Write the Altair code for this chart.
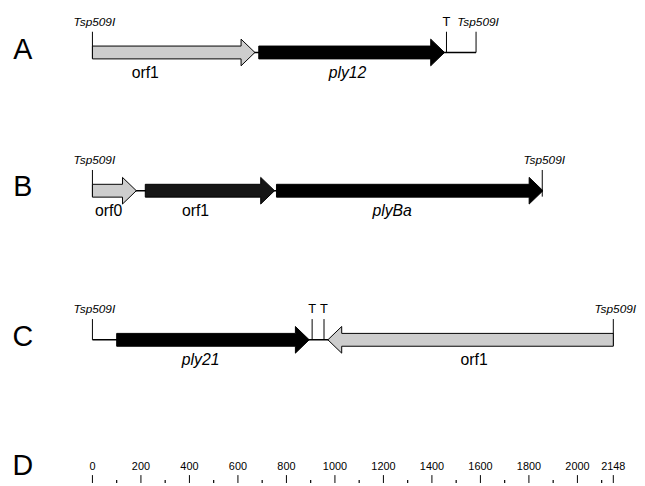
import altair as alt
import pandas as pd

# ---------------- data (bp coordinates) ----------------
row_names = ["A", "B", "C"]
row_extent = [1582, 1855, 2148]

gene_row = ["A", "A", "B", "B", "B", "C", "C"]
gene_name = ["orf1", "ply12", "orf0", "orf1", "plyBa", "ply21", "orf1"]
gene_start = [0, 686, 0, 218, 759, 100, 971]
gene_end = [670, 1452, 181, 751, 1858, 894, 2148]
gene_strand = [1, 1, 1, 1, 1, 1, -1]
gene_kind = ["orf", "lysin", "orf", "orf_dark", "lysin", "lysin", "orf"]
gene_label_at = [218, 1052, 67, 425, 1236, 446, 1574]
gene_italic = [False, True, False, False, True, True, False]

site_row = ["A", "A", "A", "B", "B", "C", "C", "C", "C"]
site_name = ["Tsp509I", "T", "Tsp509I", "Tsp509I", "Tsp509I", "Tsp509I", "T", "T", "Tsp509I"]
site_pos = [0, 1460, 1582, 0, 1855, 0, 906, 955, 2148]

ruler_labels = [0, 200, 400, 600, 800, 1000, 1200, 1400, 1600, 1800, 2000, 2148]
ruler_minor = [100, 300, 500, 700, 900, 1100, 1300, 1500, 1700, 1900, 2100]

# ---------------- layout ----------------
PX_PER_BP = 0.24558
ORIGIN_X = 93.5          # page x of bp 0
W, H = 637, 478
ROW_Y = {"A": 50, "B": 190, "C": 341}
LETTER_BASE = {"A": 57, "B": 195, "C": 347, "D": 478}
BODY = 6.5
HEAD = 13.5
HEAD_LEN = 14 / PX_PER_BP
RULER_Y = 478

xdom = [-(ORIGIN_X - 8) / PX_PER_BP, (8 + W - ORIGIN_X) / PX_PER_BP]
xs = alt.Scale(domain=xdom, range=[0, W], nice=False, zero=False)
ys = alt.Scale(domain=[8, 8 + H], reverse=True, nice=False, zero=False)

FONT = "Liberation Sans"

# arrow outline points (in path order; ties in x keep this order)
pts = []
for i in range(len(gene_name)):
    c = ROW_Y[gene_row[i]]
    s, e = gene_start[i], gene_end[i]
    if gene_strand[i] > 0:
        hs = e - HEAD_LEN
        seq = [(s, c - BODY, c + BODY), (hs, c - BODY, c + BODY),
               (hs, c - HEAD, c + HEAD), (e, c, c)]
    else:
        hs = s + HEAD_LEN
        seq = [(s, c, c), (hs, c - HEAD, c + HEAD),
               (hs, c - BODY, c + BODY), (e, c - BODY, c + BODY)]
    for k, (x, t, b) in enumerate(seq):
        pts.append(dict(gid=i, k=k, x=x, top=t, bot=b, kind=gene_kind[i]))
arrow_df = pd.DataFrame(pts)

arrows = alt.Chart(arrow_df).mark_area(
    orient="vertical", stroke="black", strokeWidth=1, interpolate="linear"
).encode(
    x=alt.X("x:Q", scale=xs, axis=None),
    y=alt.Y("top:Q", scale=ys, axis=None),
    y2="bot:Q",
    detail="gid:N",
    fill=alt.Fill("kind:N", scale=alt.Scale(domain=["orf", "lysin", "orf_dark"],
                                             range=["#cdcdcd", "#000000", "#161616"]),
                  legend=None),
)

base_df = pd.DataFrame({"row": row_names, "x0": [0] * 3, "x1": row_extent,
                        "y": [ROW_Y[r] for r in row_names]})
baselines = alt.Chart(base_df).mark_rule(color="black", strokeWidth=1.5).encode(
    x=alt.X("x0:Q", scale=xs, axis=None), x2="x1:Q",
    y=alt.Y("y:Q", scale=ys, axis=None),
)

site_rows = []
for r, n, p in zip(site_row, site_name, site_pos):
    c = ROW_Y[r]
    inside = any(gr == r and gs <= p <= ge for gr, gs, ge in zip(gene_row, gene_start, gene_end))
    site_rows.append(dict(name=n, x=p, top=c - 21, bot=c + (6 if inside else 0), ly=c - 31))
site_df = pd.DataFrame(site_rows)

site_lines = alt.Chart(site_df).mark_rule(color="black", strokeWidth=1).encode(
    x=alt.X("x:Q", scale=xs, axis=None),
    y=alt.Y("top:Q", scale=ys, axis=None), y2="bot:Q",
)
tsp_text = alt.Chart(site_df[site_df.name == "Tsp509I"]).mark_text(
    font=FONT, fontSize=12, fontStyle="italic", baseline="middle", align="center", dx=2
).encode(
    x=alt.X("x:Q", scale=xs, axis=None), y=alt.Y("ly:Q", scale=ys, axis=None), text="name:N"
)
t_text = alt.Chart(site_df[site_df.name == "T"]).mark_text(
    font=FONT, fontSize=13, baseline="middle", align="center"
).encode(
    x=alt.X("x:Q", scale=xs, axis=None), y=alt.Y("ly:Q", scale=ys, axis=None), text="name:N"
)

lab_df = pd.DataFrame({"name": gene_name, "x": gene_label_at, "italic": gene_italic,
                       "y": [ROW_Y[r] + 21 for r in gene_row]})
lab_plain = alt.Chart(lab_df[~lab_df.italic]).mark_text(
    font=FONT, fontSize=16, baseline="middle", align="center"
).encode(x=alt.X("x:Q", scale=xs, axis=None), y=alt.Y("y:Q", scale=ys, axis=None), text="name:N")
lab_ital = alt.Chart(lab_df[lab_df.italic]).mark_text(
    font=FONT, fontSize=16, fontStyle="italic", baseline="middle", align="center"
).encode(x=alt.X("x:Q", scale=xs, axis=None), y=alt.Y("y:Q", scale=ys, axis=None), text="name:N")

letter_df = pd.DataFrame({"t": list(LETTER_BASE.keys()), "y": list(LETTER_BASE.values()),
                          "x": [(23 - ORIGIN_X) / PX_PER_BP] * 4})
letters = alt.Chart(letter_df).mark_text(
    font=FONT, fontSize=29, baseline="alphabetic", align="center"
).encode(x=alt.X("x:Q", scale=xs, axis=None), y=alt.Y("y:Q", scale=ys, axis=None), text="t:N")

major_df = pd.DataFrame({"x": ruler_labels, "lab": [str(v) for v in ruler_labels]})
minor_df = pd.DataFrame({"x": ruler_minor})
major_ticks = alt.Chart(major_df).mark_rule(color="black", strokeWidth=1).encode(
    x=alt.X("x:Q", scale=xs, axis=None),
    y=alt.datum(RULER_Y, scale=ys), y2=alt.datum(8 + H),
)
minor_ticks = alt.Chart(minor_df).mark_rule(color="black", strokeWidth=1.2).encode(
    x=alt.X("x:Q", scale=xs, axis=None),
    y=alt.datum(RULER_Y + 5, scale=ys), y2=alt.datum(8 + H),
)
ruler_text = alt.Chart(major_df).mark_text(
    font=FONT, fontSize=11, baseline="middle", align="center"
).encode(
    x=alt.X("x:Q", scale=xs, axis=None), y=alt.datum(RULER_Y - 8, scale=ys), text="lab:N"
)

chart = alt.layer(
    baselines, site_lines, arrows, tsp_text, t_text, lab_plain, lab_ital, letters,
    major_ticks, minor_ticks, ruler_text
).properties(width=W, height=H, padding=0, autosize=alt.AutoSizeParams(type="none")
).configure(background="white", view=alt.ViewConfig(stroke=None))

chart.save("out.html", embed_options={"renderer": "svg", "actions": False})
